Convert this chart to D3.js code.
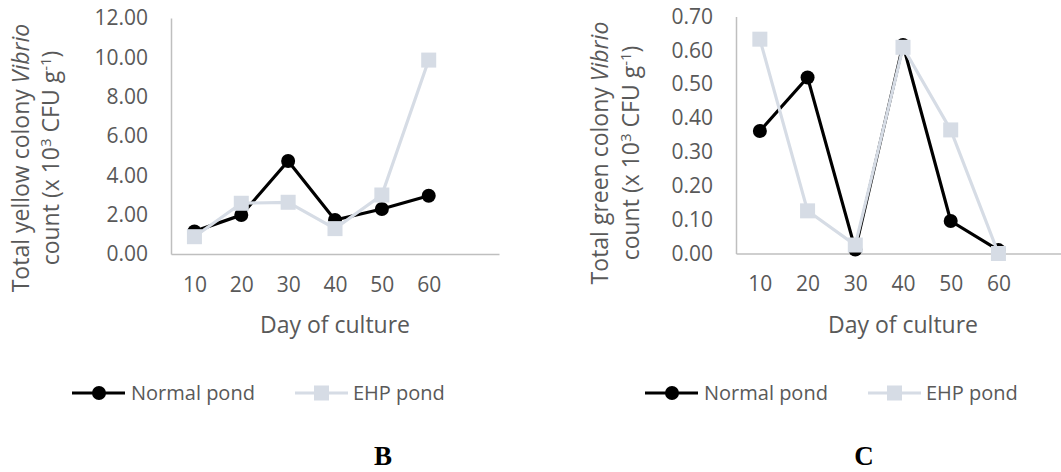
<!DOCTYPE html>
<html>
<head>
<meta charset="utf-8">
<script src="https://cdnjs.cloudflare.com/ajax/libs/d3/7.8.5/d3.min.js"></script>
<style>
	body { margin: 0; background: white; }
	svg text { font-family: "Open Sans", "Noto Sans", sans-serif; fill: #595959; }
	.panel-label { font-family: "Liberation Serif", "Times New Roman", serif; font-weight: bold; fill: #000; }
</style>
</head>
<body>
<svg id="chart" width="1061" height="472"></svg>
<script>
	// data
	var days = [10, 20, 30, 40, 50, 60];
	var yellowNormal = [1.15, 1.98, 4.73, 1.73, 2.29, 2.96];
	var yellowEHP = [0.88, 2.58, 2.63, 1.29, 3.00, 9.86];
	var greenNormal = [0.362, 0.520, 0.012, 0.616, 0.096, 0.010];
	var greenEHP = [0.633, 0.126, 0.025, 0.609, 0.365, 0.000];
	var yellowTicks = [0, 2, 4, 6, 8, 10, 12];
	var greenTicks = [0, 0.1, 0.2, 0.3, 0.4, 0.5, 0.6, 0.7];
	var seriesNames = ["Normal pond", "EHP pond"];

	var NORMAL_COLOR = "#000000";
	var EHP_COLOR = "#d6dce5";
	var AXIS_COLOR = "#bfbfbf";

	var svg = d3.select("#chart");

	function drawChart(cfg) {
		var g = svg.append("g");

		var x = d3.scaleLinear().domain([5, 75]).range([cfg.left, cfg.right]);
		var y = d3.scaleLinear().domain([0, d3.max(cfg.ticks)]).range([cfg.bottom, cfg.top]);

		// y axis
		var yAxis = g.append("g")
			.attr("transform", "translate(" + cfg.left + ",0)")
			.call(d3.axisLeft(y).tickValues(cfg.ticks).tickSize(0).tickPadding(23)
				.tickFormat(function(d) { return d.toFixed(2); }));
		yAxis.select(".domain").attr("stroke", AXIS_COLOR).attr("stroke-width", 1.5);
		yAxis.selectAll("text").style("font-size", "21px").attr("fill", null);

		// x axis
		var xAxis = g.append("g")
			.attr("transform", "translate(0," + cfg.bottom + ")")
			.call(d3.axisBottom(x).tickValues(days).tickSize(0).tickPadding(23));
		xAxis.select(".domain").attr("stroke", AXIS_COLOR).attr("stroke-width", 1.5);
		xAxis.selectAll("text").style("font-size", "21px").attr("fill", null);

		// x title
		g.append("text")
			.attr("x", (cfg.left + cfg.right) / 2)
			.attr("y", 325)
			.attr("dy", "0.35em")
			.attr("text-anchor", "middle")
			.style("font-size", "23px")
			.text("Day of culture");

		// y title, two lines
		var t1 = g.append("text")
			.attr("transform", "translate(" + cfg.titleX1 + "," + cfg.titleY + ") rotate(-90)")
			.attr("text-anchor", "middle")
			.style("font-size", "23px");
		t1.append("tspan").text("Total " + cfg.colour + " colony ");
		t1.append("tspan").style("font-style", "italic").text("Vibrio");

		var t2 = g.append("text")
			.attr("transform", "translate(" + cfg.titleX2 + "," + cfg.titleY + ") rotate(-90)")
			.attr("text-anchor", "middle")
			.style("font-size", "23px");
		t2.append("tspan").text("count (x 10");
		t2.append("tspan").attr("dy", -8).style("font-size", "15px").text("3");
		t2.append("tspan").attr("dy", 8).text(" CFU g");
		t2.append("tspan").attr("dy", -8).style("font-size", "15px").text("-1");
		t2.append("tspan").attr("dy", 8).text(")");

		var line = d3.line()
			.x(function(d, i) { return x(days[i]); })
			.y(function(d) { return y(d); });

		// Normal pond
		g.append("path").datum(cfg.normal)
			.attr("d", line).attr("fill", "none")
			.attr("stroke", NORMAL_COLOR).attr("stroke-width", 3.2);
		g.selectAll(".dot").data(cfg.normal).enter().append("circle")
			.attr("class", "dot")
			.attr("cx", function(d, i) { return x(days[i]); })
			.attr("cy", function(d) { return y(d); })
			.attr("r", 7)
			.attr("fill", NORMAL_COLOR);

		// EHP pond
		g.append("path").datum(cfg.ehp)
			.attr("d", line).attr("fill", "none")
			.attr("stroke", EHP_COLOR).attr("stroke-width", 3.2);
		g.selectAll(".sq").data(cfg.ehp).enter().append("rect")
			.attr("class", "sq")
			.attr("x", function(d, i) { return x(days[i]) - 7.5; })
			.attr("y", function(d) { return y(d) - 7.5; })
			.attr("width", 15).attr("height", 15)
			.attr("fill", EHP_COLOR);

		// legend
		var lg = g.append("g").attr("transform", "translate(" + cfg.legendX + ",393)");
		lg.append("line").attr("x1", 0).attr("x2", 53).attr("stroke", NORMAL_COLOR).attr("stroke-width", 3.2);
		lg.append("circle").attr("cx", 27).attr("r", 7).attr("fill", NORMAL_COLOR);
		lg.append("text").attr("x", 59).attr("dy", "0.35em").style("font-size", "20px").text(seriesNames[0]);
		lg.append("line").attr("x1", 223).attr("x2", 276).attr("stroke", EHP_COLOR).attr("stroke-width", 3.2);
		lg.append("rect").attr("x", 242).attr("y", -7.5).attr("width", 15).attr("height", 15).attr("fill", EHP_COLOR);
		lg.append("text").attr("x", 281).attr("dy", "0.35em").style("font-size", "20px").text(seriesNames[1]);

		// panel letter
		g.append("text")
			.attr("class", "panel-label")
			.attr("x", cfg.letterX)
			.attr("y", 465)
			.attr("text-anchor", "middle")
			.style("font-size", "27px")
			.text(cfg.letter);
	}

	drawChart({
		left: 171, right: 499, top: 18, bottom: 254,
		ticks: yellowTicks, normal: yellowNormal, ehp: yellowEHP,
		colour: "yellow", titleX1: 29, titleX2: 59, titleY: 158,
		legendX: 72, letter: "B", letterX: 383
	});

	drawChart({
		left: 736, right: 1070, top: 16.5, bottom: 253.5,
		ticks: greenTicks, normal: greenNormal, ehp: greenEHP,
		colour: "green", titleX1: 608, titleX2: 639, titleY: 153,
		legendX: 645, letter: "C", letterX: 864
	});
</script>
</body>
</html>
